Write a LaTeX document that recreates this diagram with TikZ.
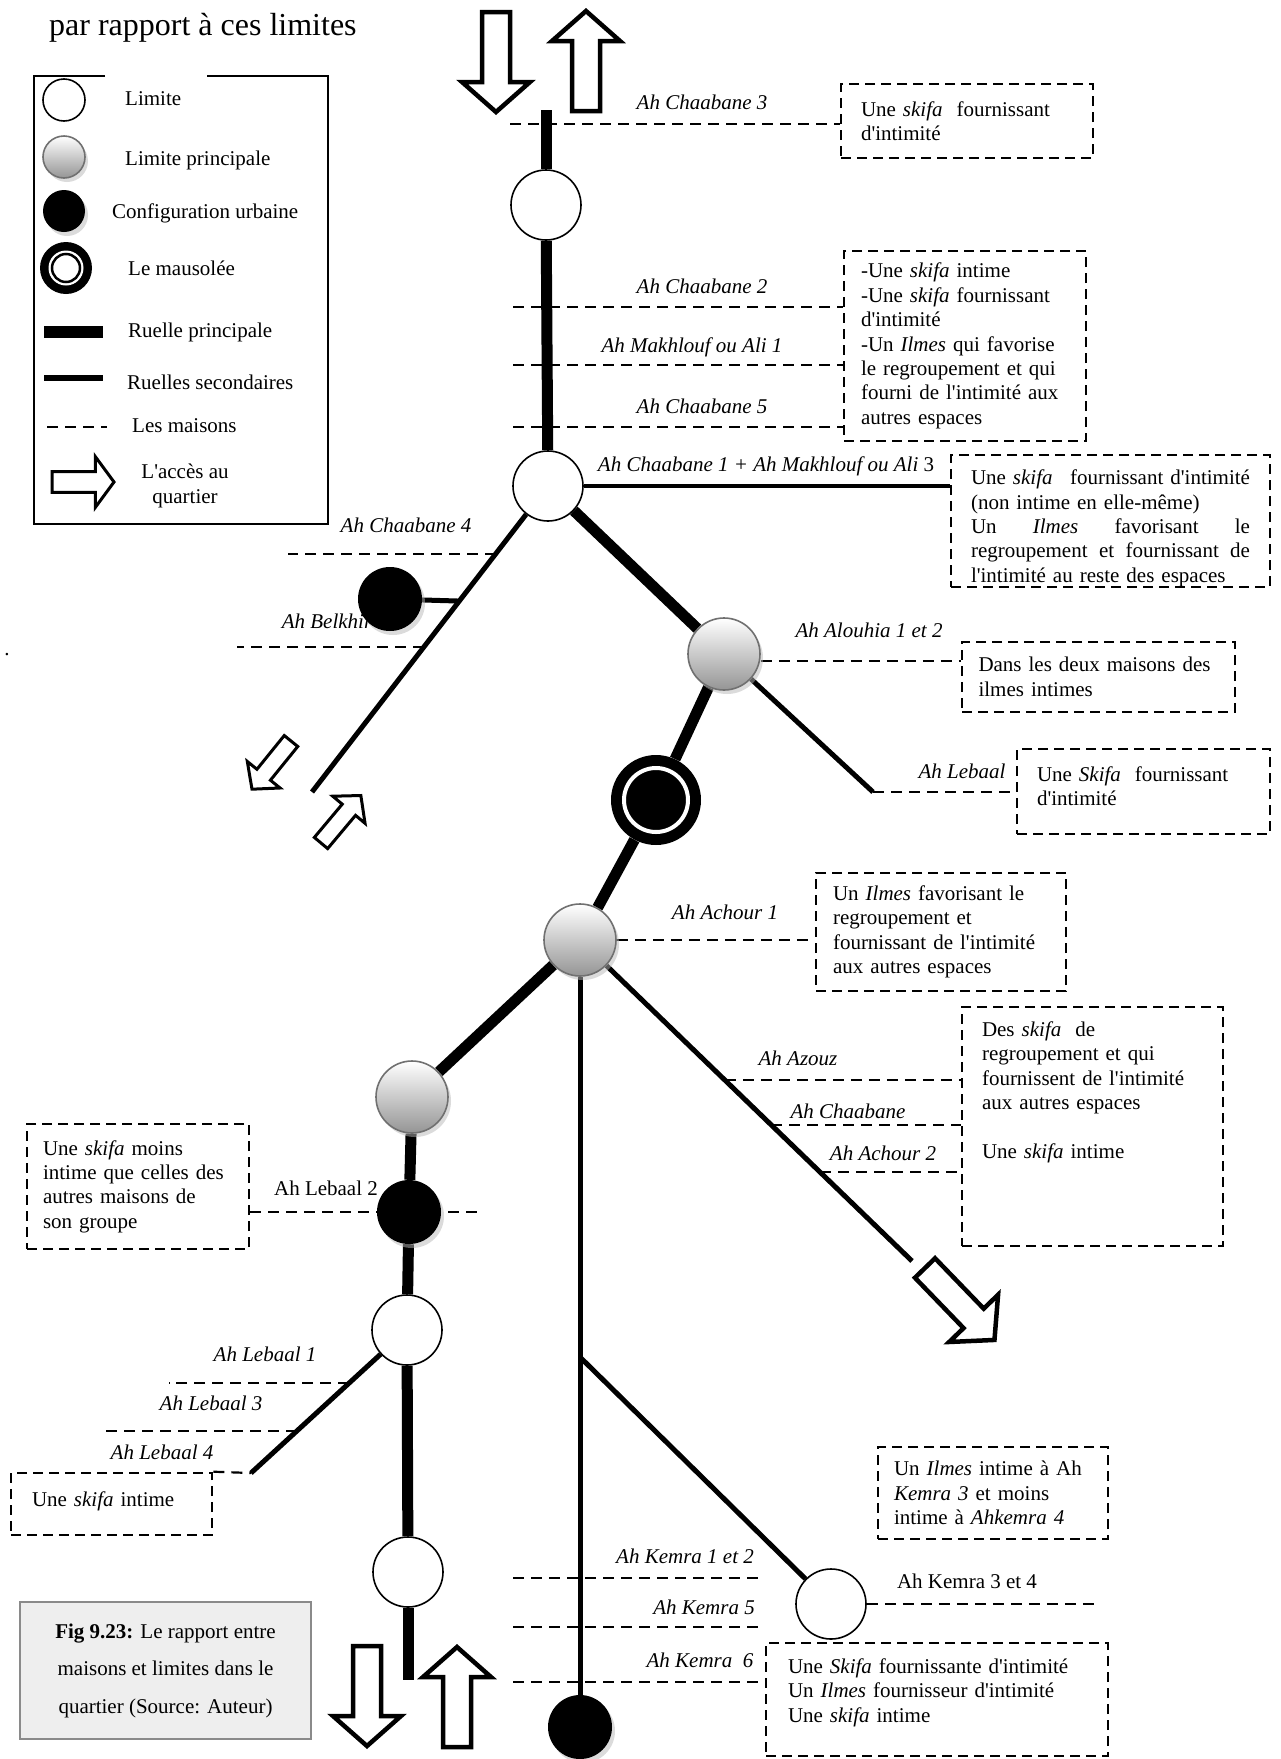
\documentclass[tikz,border=0pt]{standalone}
\usepackage{fontspec}
\setmainfont{Liberation Serif}[Ligatures=TeXOff]
\usepackage{tikz}
\usetikzlibrary{calc,shadows,backgrounds}
\definecolor{grisbord}{HTML}{707070}
\definecolor{grisbas}{HTML}{959595}
\definecolor{ombre}{HTML}{B8B8B8}
\definecolor{fondfig}{HTML}{EEEEEE}
\definecolor{bordfig}{HTML}{8A8A8A}
\newcommand{\corps}{\fontsize{21}{24.4}\selectfont}

\begin{document}
\begin{tikzpicture}[x=1pt,y=-1pt,
  limite/.style={circle, draw, line width=1.6pt, fill=white, minimum size=70pt, inner sep=0pt},
  princ/.style={circle, draw=grisbord, line width=1.6pt, top color=white, bottom color=grisbas, minimum size=72pt, inner sep=0pt, drop shadow={shadow xshift=3pt,shadow yshift=-4pt,fill=ombre}},
  config/.style={circle, fill=black, minimum size=64pt, inner sep=0pt, drop shadow={shadow xshift=3pt,shadow yshift=-4pt,fill=ombre}},
  mauso/.style={circle, fill=black, minimum size=90pt, inner sep=0pt, path picture={\draw[white, line width=4pt] (path picture bounding box.center) circle[radius=32pt];}},
  legmau/.style={circle, fill=black, minimum size=52pt, inner sep=0pt, path picture={\fill[white] (path picture bounding box.center) circle[radius=17.5pt]; \draw[line width=2.5pt] (path picture bounding box.center) circle[radius=14pt];}},
  rp/.style={line width=11pt}, rs/.style={line width=5pt},
  maison/.style={line width=2.2pt, dash pattern=on 11pt off 7pt},
  boite/.style={draw, line width=2.6pt, dash pattern=on 10pt off 6pt, inner sep=0pt, align=left, font=\corps},
  lab/.style={font=\corps\itshape, text height=14pt, text depth=4pt, inner sep=0pt},
  leg/.style={font=\corps, anchor=west, text height=14pt, text depth=4pt, inner sep=0pt},
  fleche/.style={line width=4.5pt}, petite/.style={scale=.62, line width=3pt},
  acces/.pic={\draw[fill=white, line join=miter] (0,-14) -- (70,-14) -- (70,-34) -- (100,0) -- (70,34) -- (70,14) -- (0,14) -- cycle;}]
  \useasboundingbox (0,0) rectangle (1280,1759);
  \node[font=\fontsize{32}{36}\selectfont, anchor=west, inner sep=0pt] (titre) at (49,28) {par rapport à ces limites};
  \node[font=\corps, inner sep=0pt] (pt) at (7,655) {.};
  \foreach \x/\y/\t [count=\i] in {702/104/Ah Chaabane 3, 702/288/Ah Chaabane 2, 692/347/Ah Makhlouf ou Ali 1, 702/408/Ah Chaabane 5,
    766/466/{Ah Chaabane 1 + Ah Makhlouf ou Ali \textup{3}}, 406/527/Ah Chaabane 4, 327/623/Ah Belkhir, 869/632/Ah Alouhia 1 et 2,
    962/773/Ah Lebaal, 725/914/Ah Achour 1, 798/1060/Ah Azouz, 848/1113/Ah Chaabane, 883/1155/Ah Achour 2, 265/1356/Ah Lebaal 1,
    211/1405/Ah Lebaal 3, 162/1454/Ah Lebaal 4, 685/1558/Ah Kemra 1 et 2, 704/1609/Ah Kemra 5, 700/1662/Ah Kemra~~6}
    \node[lab] (m\i) at (\x,\y) {\t};
  \node[lab, font=\corps] (m20) at (326,1190) {Ah Lebaal 2};
  \node[lab, font=\corps] (m21) at (967,1583) {Ah Kemra 3 et 4};

  \node[limite] (c1) at (546,205) {};
  \node[limite] (c2) at (548,486) {};
  \node[config] (bel) at (390,599) {};
  \node[princ] (al) at (724,654) {};
  \node[mauso] (mau) at (656,800) {};
  \node[princ] (ach) at (580,940) {};
  \node[princ] (g2) at (412,1097) {};
  \node[config] (leb2) at (409,1212) {};
  \node[limite] (c3) at (407,1330) {};
  \node[limite] (c4) at (408,1572) {};
  \node[limite] (km) at (831,1604) {};
  \node[config] (bot) at (580,1727) {};

  \node[boite, minimum width=252pt, minimum height=74pt, text width=212pt] (b1) at (967,121) {Une \textit{skifa}~ fournissant\\d'intimité};
  \node[boite, minimum width=242pt, minimum height=190pt, text width=208pt] (b2) at (965,346) {-Une \textit{skifa} intime\\-Une \textit{skifa} fournissant\\d'intimité\\-Un \textit{Ilmes} qui favorise\\le regroupement et qui\\fourni de l'intimité aux\\autres espaces};
  \node[boite, minimum width=319pt, minimum height=132pt, text width=279pt] (b3) at (1110.5,521) {\mbox{}\\[5pt]Une \textit{skifa}\hfill fournissant d'intimité\\(non intime en elle-même)\\Un\hfill\textit{Ilmes}\hfill favorisant\hfill le\\regroupement\hfill et\hfill fournissant\hfill de\\l'intimité au reste des espaces};
  \node[boite, minimum width=273pt, minimum height=70pt, text width=240pt] (b4) at (1098.5,677) {Dans les deux maisons des\\ilmes intimes};
  \node[boite, minimum width=253pt, minimum height=85pt, text width=213pt] (b5) at (1143.5,791.5) {Une \textit{Skifa}~ fournissant\\d'intimité\\[-14pt]\mbox{}};
  \node[boite, minimum width=250pt, minimum height=118pt, text width=216pt] (b6) at (941,932) {Un \textit{Ilmes} favorisant le\\regroupement et\\fournissant de l'intimité\\aux autres espaces};
  \node[boite, minimum width=261pt, minimum height=239pt, text width=221pt] (b7) at (1092.5,1126.5) {Des \textit{skifa}~ de\\regroupement et qui\\fournissent de l'intimité\\aux autres espaces\\[24.4pt]Une \textit{skifa} intime\\[49pt]\mbox{}};
  \node[boite, minimum width=222pt, minimum height=125pt, text width=190pt] (b8) at (138,1186.5) {Une \textit{skifa} moins\\intime que celles des\\autres maisons de\\son groupe};
  \node[boite, minimum width=201pt, minimum height=62pt, text width=159pt] (b9) at (111.5,1504) {Une \textit{skifa} intime\\[-14pt]\mbox{}};
  \node[boite, minimum width=230pt, minimum height=92pt, text width=198pt] (b10) at (993,1493) {Un \textit{Ilmes} intime à Ah\\\textit{Kemra 3} et moins\\intime à \textit{Ahkemra 4}};
  \node[boite, minimum width=342pt, minimum height=113pt, text width=298pt] (b11) at (937,1699.5) {Une \textit{Skifa} fournissante d'intimité\\Un \textit{Ilmes} fournisseur d'intimité\\Une \textit{skifa} intime\\[-6pt]\mbox{}};

  \begin{scope}[on background layer]
    \fill[white] (0,0) rectangle (1280,1759);
    \coordinate (haut) at (546,110); \coordinate (sw) at (312,792); \coordinate (lbe) at (873,792);
    \coordinate (se) at (912,1261); \coordinate (lw) at (251,1473); \coordinate (bas) at (408,1680);
    \coordinate (kp) at ($(ach)!.53!(bot)$);
    \foreach \a/\b in {haut/c1, c1/c2, c2/al, al/mau, mau/ach, ach/g2, g2/leb2, leb2/c3, c3/c4, c4/bas}
      \draw[rp] (\a) -- (\b);
    \foreach \a/\b in {c2/sw, al/lbe, ach/se, ach/bot, c3/lw, kp/km}
      \draw[rs] (\a) -- (\b);
    \draw[rs, line width=4pt] (c2) -- (c2 -| b3.west);
    \coordinate (pbel) at ($(c2)!.376!(sw)$);
    \draw[rs] (bel) -- (pbel);
    \coordinate (h3) at (510,124);
    \draw[maison] (h3) -- (h3 -| b1.west);
    \foreach \y [count=\i] in {307,365,427} {\coordinate (h\i) at (513,\y); \draw[maison] (h\i) -- (h\i -| b2.west);}
    \coordinate (pch4) at ($(c2)!.222!(sw)$); \draw[maison] (pch4) -- ++(-208,0);
    \coordinate (pbk) at ($(c2)!.526!(sw)$); \draw[maison] (pbk) -- ++(-187,0);
    \coordinate (pal) at ([yshift=-7pt]al.east); \draw[maison] (pal) -- (pal -| b4.west);
    \draw[maison] (lbe) -- (lbe -| b5.west);
    \draw[maison] (ach.east) -- (ach.east -| b6.west);
    \foreach \t [count=\i] in {.436,.576,.723} {\coordinate (az\i) at ($(ach)!\t!(se)$); \draw[maison] (az\i) -- (az\i -| b7.west);}
    \draw[maison] (b8.east |- leb2) -- ++(233,0);
    \foreach \t/\x [count=\i] in {.371/169,.706/104} {\coordinate (lb\i) at ($(c3)!\t!(lw)$); \draw[maison] (lb\i) -- (lb\i -| \x,0);}
    \draw[maison] (b9.north east) -- (lw);
    \foreach \y [count=\i] in {1578,1627} {\coordinate (k\i) at (513,\y); \draw[maison] (k\i) -- ++(250,0);}
    \coordinate (k3) at (513,1682); \draw[maison] (k3) -- (k3 -| b11.west);
    \draw[maison] (km.east) -- ++(228,0);
  \end{scope}

  \path (496,12) pic[fleche, rotate=-90] {acces};
  \path (586,111) pic[fleche, rotate=90] {acces};
  \path (925,1268) pic[fleche, rotate=-46] {acces};
  \path (367,1646) pic[fleche, rotate=-90] {acces};
  \path (457,1747) pic[fleche, rotate=90] {acces};
  \path (291,741) pic[petite, rotate=-129] {acces};
  \path (321,843) pic[petite, rotate=50] {acces};

  \draw[line width=1.8pt] (105,76) -| (34,524) -| (328,76) -- (207,76);
  \node[limite, minimum size=42pt] (l1) at (64,100) {};
  \node[princ, minimum size=42pt] (l2) at (64,157) {};
  \node[config, minimum size=42pt] (l3) at (64,211) {};
  \node[legmau] (l4) at (66,268) {};
  \draw[line width=12pt] (44,332) -- (103,332);
  \draw[line width=6.5pt] (44,378) -- (103,378);
  \draw[maison] (47,427) -- (107,427);
  \path (52,482) pic[petite, yscale=1.2] {acces};
  \foreach \x/\y/\t [count=\i] in {125/100/Limite, 125/160/Limite principale, 112/213/Configuration urbaine, 128/270/Le mausolée,
    128/332/Ruelle principale, 127/384/Ruelles secondaires, 132/427/Les maisons}
    \node[leg] (t\i) at (\x,\y) {\t};
  \node[font=\corps, align=center, inner sep=0pt] (t8) at (185,486) {L'accès au\\quartier};

  \node[draw=bordfig, fill=fondfig, line width=2pt, minimum width=291pt, minimum height=137pt, align=center,
    font=\fontsize{21}{37.5}\selectfont] (fig) at (165.5,1670.5) {\textbf{Fig 9.23:} Le rapport entre\\maisons et limites dans le\\quartier (Source: Auteur)};
\end{tikzpicture}
\end{document}
